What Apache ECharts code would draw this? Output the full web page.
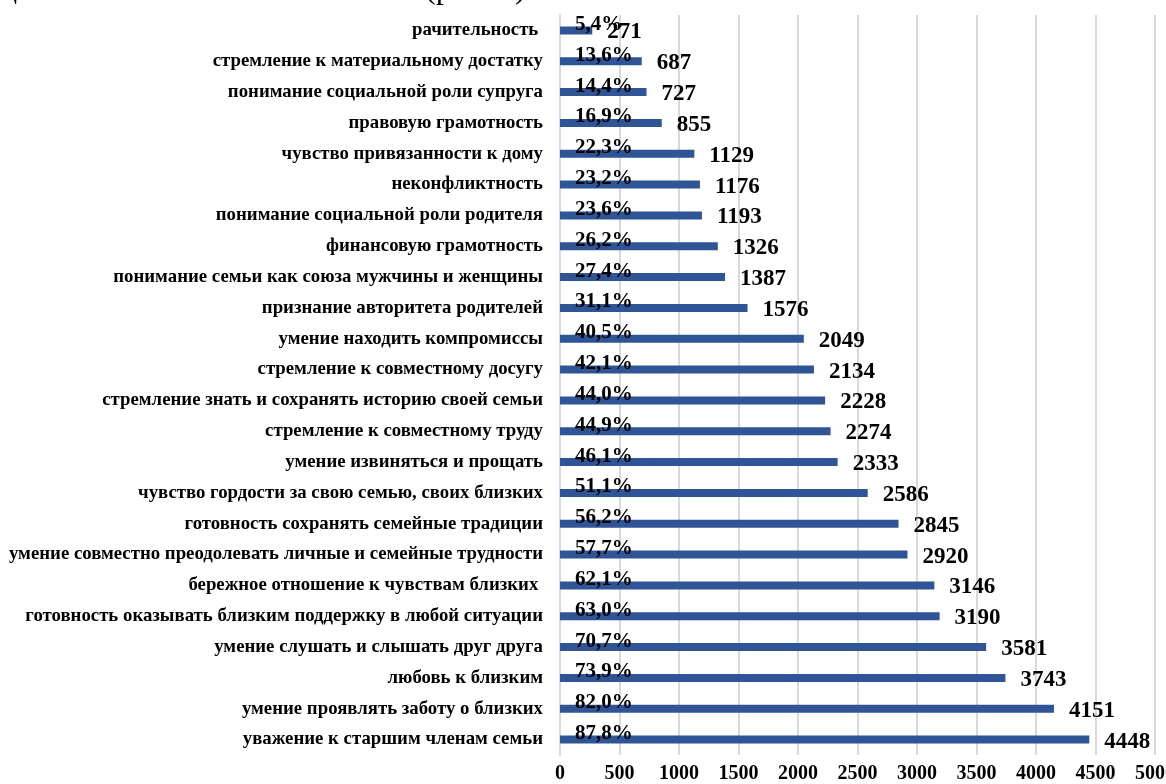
<!DOCTYPE html>
<html><head><meta charset="utf-8">
<script src="https://cdn.jsdelivr.net/npm/echarts@6/dist/echarts.min.js"></script>
<style>html,body{margin:0;padding:0;background:#fff}#c{width:1166px;height:784px}</style>
</head><body><div id="c"></div>
<script>
const categories = [
  'рачительность ',
  'стремление к материальному достатку',
  'понимание социальной роли супруга',
  'правовую грамотность',
  'чувство привязанности к дому',
  'неконфликтность',
  'понимание социальной роли родителя',
  'финансовую грамотность',
  'понимание семьи как союза мужчины и женщины',
  'признание авторитета родителей',
  'умение находить компромиссы',
  'стремление к совместному досугу',
  'стремление знать и сохранять историю своей семьи',
  'стремление к совместному труду',
  'умение извиняться и прощать',
  'чувство гордости за свою семью, своих близких',
  'готовность сохранять семейные традиции',
  'умение совместно преодолевать личные и семейные трудности',
  'бережное отношение к чувствам близких ',
  'готовность оказывать близким поддержку в любой ситуации',
  'умение слушать и слышать друг друга',
  'любовь к близким',
  'умение проявлять заботу о близких',
  'уважение к старшим членам семьи'
];
const counts = [271, 687, 727, 855, 1129, 1176, 1193, 1326, 1387, 1576, 2049, 2134, 2228, 2274, 2333, 2586, 2845, 2920, 3146, 3190, 3581, 3743, 4151, 4448];
const percents = ['5,4%', '13,6%', '14,4%', '16,9%', '22,3%', '23,2%', '23,6%', '26,2%', '27,4%', '31,1%', '40,5%', '42,1%', '44,0%', '44,9%', '46,1%', '51,1%', '56,2%', '57,7%', '62,1%', '63,0%', '70,7%', '73,9%', '82,0%', '87,8%'];
const xTicks = [0, 500, 1000, 1500, 2000, 2500, 3000, 3500, 4000, 4500, 5000];

const serif = '"Liberation Serif", "Times New Roman", serif';
const chart = echarts.init(document.getElementById('c'), null, {renderer: 'canvas'});
chart.setOption({
  animation: false,
  backgroundColor: '#fff',
  graphic: [{
    type: 'text', left: 0, top: -26,
    style: {text: 'ценности', font: '32px ' + serif, fill: '#000'}
  }, {
    type: 'text', left: 425, top: -26,
    style: {text: '(рис. 5).', font: '32px ' + serif, fill: '#000'}
  }],
  grid: {left: 560, right: 11, top: 15, bottom: 29, containLabel: false, outerBoundsMode: 'none'},
  xAxis: {
    type: 'value', min: xTicks[0], max: xTicks[xTicks.length - 1], interval: 500,
    axisLine: {show: false}, axisTick: {show: false},
    splitLine: {show: true, lineStyle: {color: '#d9d9d9', width: 2}},
    axisLabel: {margin: 9, color: '#000', fontFamily: serif, fontWeight: 'bold', fontSize: 20,
      formatter: v => String(v)}
  },
  yAxis: {
    type: 'category', data: categories, inverse: true,
    axisLine: {show: true, lineStyle: {color: '#d9d9d9', width: 2}},
    axisTick: {show: false},
    axisLabel: {margin: 17, color: '#000', fontFamily: serif, fontWeight: 'bold', fontSize: 18.8}
  },
  series: [{
    type: 'bar', data: counts, barWidth: 8,
    itemStyle: {color: '#2F5597'},
    label: {show: true, position: 'right', distance: 15, offset: [0, 2],
      color: '#000', fontFamily: serif, fontWeight: 'bold', fontSize: 23}
  }, {
    type: 'bar', data: counts, barWidth: 8, barGap: '-100%',
    itemStyle: {color: 'rgba(0,0,0,0)'},
    label: {show: true, position: 'insideLeft', distance: 0, offset: [15, -6],
      formatter: p => percents[p.dataIndex],
      color: '#000', fontFamily: serif, fontWeight: 'bold', fontSize: 21}
  }]
});
</script></body></html>
